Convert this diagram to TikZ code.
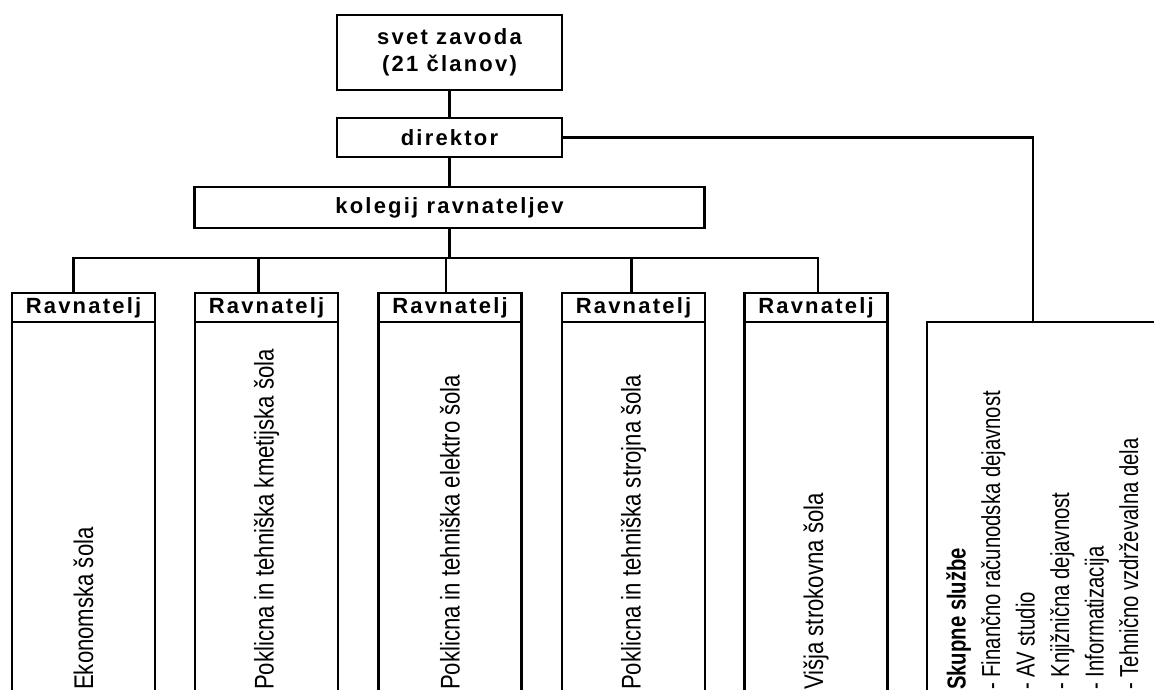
\documentclass[tikz,border=0pt]{standalone}
\usepackage{fontspec}
\setmainfont{Liberation Sans}
\newfontfamily\headfont[LetterSpace=10]{Liberation Sans}
\newfontfamily\narrowfont[FakeStretch=0.82]{Liberation Sans}
\newfontfamily\listfont[FakeStretch=0.78]{Liberation Sans}
\usetikzlibrary{
  positioning,
  calc}
\tikzset{
  %% unit : a box of the organisation
  unit/.style={
    rectangle,
    draw=black,
    line width=2.7pt,
    outer sep=0pt,
    inner sep=0pt,
    align=center,
    font=\headfont\bfseries\fontsize{22}{27}\selectfont
  },
  %% head : the header of a school column
  head/.style={
    unit,
    minimum width=143pt,
    minimum height=29pt
  },
  %% column : the body of a school column (runs off the page)
  column/.style={
    unit,
    minimum width=143pt,
    minimum height=400pt
  },
  %% school : the rotated school name
  school/.style={
    rotate=90,
    anchor=west,
    inner sep=0pt,
    font=\narrowfont\fontsize{27}{30}\selectfont
  },
  %% link : connection between units
  link/.style={line width=2.7pt}
}

\begin{document}
\begin{tikzpicture}
  [x=1pt,
  y=-1pt]

  \useasboundingbox (0,0) rectangle (1154,690);

  %% Top of the organisation
  \node (svet) [unit, minimum width=225pt, minimum height=75pt] at (449.5,52.5){%
    svet zavoda\\
    (21 članov)};

  \node (direktor) [unit, below=28pt of svet, minimum width=225pt,
    minimum height=39pt]{%
    direktor};

  \node (kolegij) [unit, below=30pt of direktor, minimum width=510pt,
    minimum height=41pt]{%
    kolegij ravnateljev};

  %% Schools
  \foreach \i/\x in {1/83.5, 2/266.5, 3/450, 4/633.5, 5/816}{
    \node (head\i) [head] at (\x,307.5){Ravnatelj};
    \node (col\i) [column, below=0pt of head\i]{};
  }

  \foreach \i/\name in {1/Ekonomska šola,
    2/Poklicna in tehniška kmetijska šola,
    3/Poklicna in tehniška elektro šola,
    4/Poklicna in tehniška strojna šola,
    5/Višja strokovna šola}
    \node [school] at (col\i.center |- 0,690){\name};

  %% Common services
  \node (sluzbe) [unit, anchor=north west, minimum width=300pt,
    minimum height=400pt] at (927,322){};

  \node (sluzbetext) [school, anchor=north west, align=left,
    font=\listfont\fontsize{26}{34.5}\selectfont] at (946,690){%
    \textbf{Skupne službe}\\
    - Finančno računodska dejavnost\\
    - AV studio\\
    - Knjižnična dejavnost\\
    - Informatizacija\\
    - Tehnično vzdrževalna dela};

  %% Connections
  \draw [link] (svet) -- (direktor);
  \draw [link] (direktor) -- (kolegij);
  \coordinate (bus) at ($(kolegij.south)+(0,30)$);
  \draw [link] (kolegij) -- (bus);
  \foreach \i/\dx in {1/-10, 2/-8, 3/-4, 4/-2, 5/2}
    \draw [link] (bus) -| ([xshift=\dx]head\i.north);
  \draw [link] (direktor.east) -| ([xshift=106pt]sluzbe.north west);

\end{tikzpicture}
\end{document}
